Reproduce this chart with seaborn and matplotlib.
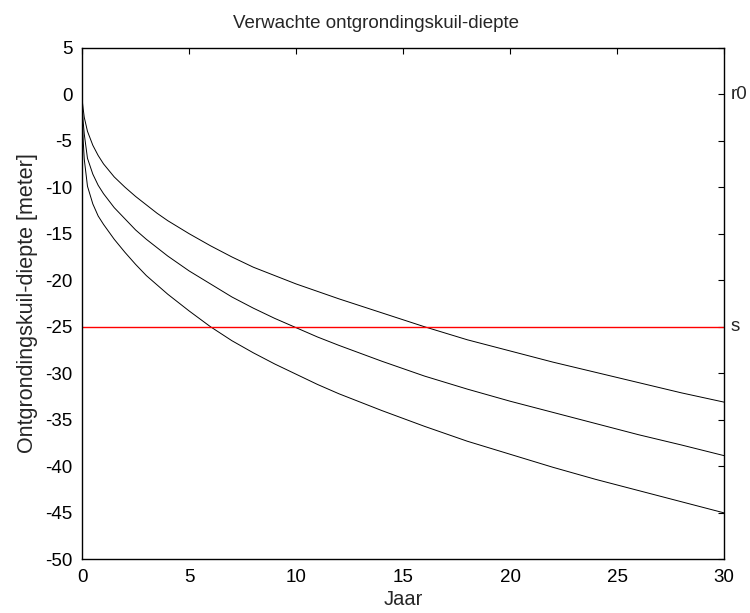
import matplotlib
matplotlib.use('Agg')
import matplotlib.pyplot as plt
import seaborn as sns
import pandas as pd

# years
jaar = [0, 0.02, 0.05, 0.1, 0.25, 0.5, 0.75, 1, 1.5, 2, 2.5, 3, 3.5, 4, 4.5, 5, 6, 7, 8, 9, 10,
        11, 12, 14, 16, 18, 20, 22, 24, 26, 28, 30]

# expected scour depth (upper / middle / lower estimate)
diepte_hoog = [0, -1.0, -1.6, -2.5, -4.0, -5.5, -6.6, -7.5, -8.9, -10.0, -11.0, -11.9, -12.8, -13.6,
               -14.3, -15.0, -16.3, -17.5, -18.6, -19.5, -20.4, -21.2, -22.0, -23.5, -25.0, -26.4,
               -27.6, -28.8, -29.9, -31.0, -32.1, -33.1]
diepte_mid = [0, -2.0, -3.0, -4.3, -6.9, -8.6, -9.8, -10.7, -12.2, -13.4, -14.6, -15.6, -16.5, -17.4,
              -18.2, -19.0, -20.4, -21.8, -23.0, -24.1, -25.1, -26.1, -27.0, -28.7, -30.3, -31.7,
              -33.0, -34.2, -35.4, -36.6, -37.7, -38.85]
diepte_laag = [0, -3.2, -5.0, -7.0, -9.9, -11.8, -13.1, -14.0, -15.6, -17.0, -18.3, -19.5, -20.5, -21.5,
               -22.4, -23.3, -25.0, -26.5, -27.8, -29.0, -30.1, -31.2, -32.2, -34.0, -35.7, -37.3,
               -38.7, -40.1, -41.4, -42.6, -43.8, -45.0]

s_niveau = -25
r0_niveau = 0

sns.set_style('white')
plt.rcParams['font.family'] = ['Liberation Sans', 'DejaVu Sans']
plt.rcParams['axes.unicode_minus'] = False

df = pd.DataFrame({'jaar': jaar, 'hoog': diepte_hoog, 'mid': diepte_mid, 'laag': diepte_laag})

fig = plt.figure(figsize=(7.5, 6.13), dpi=100)
ax = fig.add_axes([0.1095, 0.0874, 0.856, 0.835])

for col in ['hoog', 'mid', 'laag']:
    sns.lineplot(data=df, x='jaar', y=col, ax=ax, color='black', linewidth=0.7)

ax.axhline(s_niveau, color='red', linewidth=1.0)

ax.set_xlim(0, 30)
ax.set_ylim(-50, 5)
ax.set_xticks(range(0, 31, 5))
ax.set_yticks(range(-50, 6, 5))

ax.tick_params(direction='in', top=True, right=True, length=4, width=0.8, labelsize=13.5,
               colors='black', pad=7)
for sp in ax.spines.values():
    sp.set_color('black')
    sp.set_linewidth(1.0)

ax.set_title('Verwachte ontgrondingskuil-diepte', fontsize=13.5, pad=14, x=0.457)
ax.set_xlabel('Jaar', fontsize=14.5, labelpad=3)
ax.set_ylabel('Ontgrondingskuil-diepte [meter]', fontsize=15.5, labelpad=5)

# labels on right side
ax.text(1.01, r0_niveau, 'r0', transform=ax.get_yaxis_transform(), va='center', ha='left', fontsize=13.5)
ax.text(1.01, s_niveau, 's', transform=ax.get_yaxis_transform(), va='center', ha='left', fontsize=13.5)

fig.savefig('out.png', dpi=100)
